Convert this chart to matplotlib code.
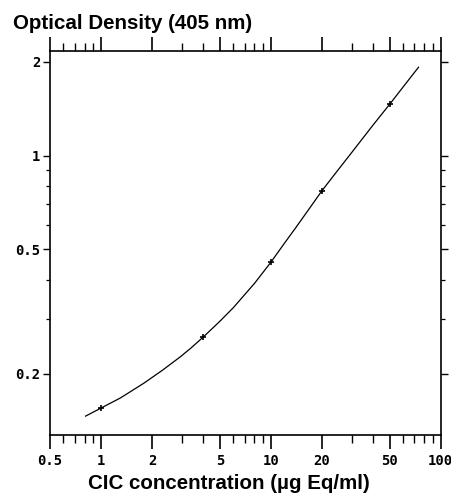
import matplotlib
matplotlib.use("Agg")
import matplotlib.pyplot as plt
from matplotlib.ticker import FixedLocator, FixedFormatter, NullFormatter

# data points (standards)
conc = [1, 4, 10, 20, 50]
od = [0.155, 0.262, 0.455, 0.772, 1.46]

# fitted curve
curve_x = [0.81, 1.0, 1.3, 1.78, 2.3, 2.92, 3.4, 4.0, 5.0, 6.0, 8.0, 10.0, 12.0, 14.0, 17.0, 20.0, 25.0, 30.0, 40.0, 50.0, 62.0, 74.0]
curve_y = [0.146, 0.155, 0.167, 0.186, 0.205, 0.226, 0.242, 0.262, 0.294, 0.325, 0.389, 0.455, 0.523, 0.587, 0.681, 0.772, 0.903, 1.025, 1.254, 1.46, 1.697, 1.92]

x_major = [0.5, 1, 2, 5, 10, 20, 50, 100]
x_major_labels = ["0.5", "1", "2", "5", "10", "20", "50", "100"]
x_minor = [0.6, 0.7, 0.8, 0.9, 3, 4, 6, 7, 8, 9, 30, 40, 60, 70, 80, 90]
y_major = [0.2, 0.5, 1, 2]
y_major_labels = ["0.2", "0.5", "1", "2"]
y_minor = [0.3, 0.4, 0.6, 0.7, 0.8, 0.9]

W, H = 452, 494
fig = plt.figure(figsize=(W / 100, H / 100), dpi=100)
ax = fig.add_axes([50 / W, 1 - 435 / H, (440.7 - 50) / W, (435 - 50.7) / H])

ax.plot(curve_x, curve_y, color="black", lw=0.9)
ax.plot(conc, od, linestyle="none", marker="+", color="black", markersize=5, mew=1.2)

ax.set_xscale("log")
ax.set_yscale("log")
ax.set_xlim(0.5, 100)
ax.set_ylim(0.127, 2.17)

ax.xaxis.set_major_locator(FixedLocator(x_major))
ax.xaxis.set_major_formatter(FixedFormatter(x_major_labels))
ax.xaxis.set_minor_locator(FixedLocator(x_minor))
ax.xaxis.set_minor_formatter(NullFormatter())
ax.yaxis.set_major_locator(FixedLocator(y_major))
ax.yaxis.set_major_formatter(FixedFormatter(y_major_labels))
ax.yaxis.set_minor_locator(FixedLocator(y_minor))
ax.yaxis.set_minor_formatter(NullFormatter())

ax.tick_params(axis="x", which="major", direction="out", length=10, width=1.2,
               top=True, bottom=True, pad=4)
ax.tick_params(axis="x", which="minor", direction="out", length=6, width=1.0,
               top=True, bottom=True)
ax.tick_params(axis="y", which="major", direction="out", length=5, width=1.0,
               left=True, right=True, pad=2)
ax.tick_params(axis="y", which="minor", direction="out", length=3, width=0.9,
               left=True, right=True)
for sp in ax.spines.values():
    sp.set_linewidth(1.2)

for lab in ax.get_xticklabels() + ax.get_yticklabels():
    lab.set_family("DejaVu Sans Mono")
    lab.set_fontweight("bold")
    lab.set_fontsize(10)

fig.text(13 / W, 1 - 29 / H, "Optical Density (405 nm)", family="Liberation Sans",
         fontweight="bold", fontsize=14.8, ha="left", va="baseline")
fig.text(229 / W, 1 - 489 / H, "CIC concentration (µg Eq/ml)", family="Liberation Sans",
         fontweight="bold", fontsize=14.8, ha="center", va="baseline")

fig.savefig("out.png", dpi=100)
